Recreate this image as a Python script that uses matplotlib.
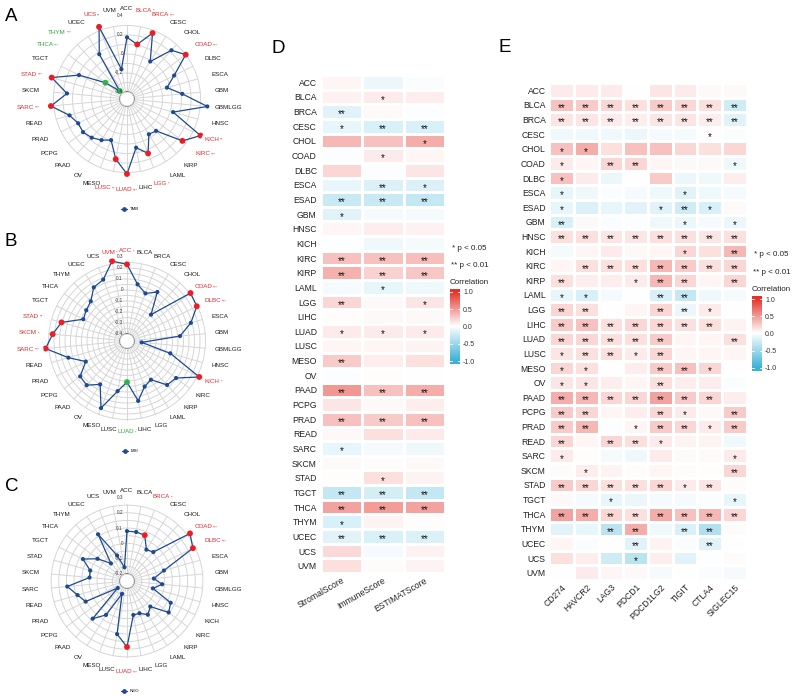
import numpy as np
import matplotlib
matplotlib.use('Agg')
import matplotlib.pyplot as plt
from matplotlib.colors import LinearSegmentedColormap
from matplotlib.lines import Line2D
from matplotlib.patches import Circle
from matplotlib import transforms

plt.rcParams['font.family'] = ['Liberation Sans', 'DejaVu Sans']

# ---- data ----
radar_cats = ['ACC', 'BLCA', 'BRCA', 'CESC', 'CHOL', 'COAD', 'DLBC', 'ESCA', 'GBM', 'GBMLGG',
              'HNSC', 'KICH', 'KIRC', 'KIRP', 'LAML', 'LGG', 'LIHC', 'LUAD', 'LUSC', 'MESO',
              'OV', 'PAAD', 'PCPG', 'PRAD', 'READ', 'SARC', 'SKCM', 'STAD', 'TGCT', 'THCA',
              'THYM', 'UCEC', 'UCS', 'UVM']

tmb = [0.175, 0.11, 0.27, -0.01, 0.22, 0.30, 0.08, -0.037, 0.11, 0.375,
       0.03, 0.39, 0.257, -0.02, -0.037, 0.14, 0.047, 0.315, 0.17, -0.01,
       0.035, 0.077, 0.105, 0.10, 0.155, 0.33, 0.16, 0.35, 0.09, -0.19,
       -0.36, 0.08, 0.34, -0.155]
tmb_stars = {'BLCA': '*', 'BRCA': '***', 'COAD': '***', 'KICH': '**', 'KIRC': '***',
             'LGG': '*', 'LUAD': '***', 'LUSC': '**', 'SARC': '***', 'STAD': '***',
             'THCA': '***', 'THYM': '***', 'UCS': '**'}

msi = [0.233, 0.06, 0.0, 0.06, -0.14, 0.26, 0.245, 0.14, 0.02, -0.33,
       -0.055, 0.27, 0.095, 0.077, -0.05, -0.02, 0.09, -0.09, 0.0, 0.19,
       0.0, 0.08, 0.07, -0.045, 0.09, 0.28, 0.215, 0.155, -0.02, 0.0,
       0.025, 0.11, 0.135, 0.275]
msi_stars = {'ACC': '*', 'COAD': '***', 'DLBC': '***', 'KICH': '*', 'LUAD': '*',
             'SARC': '***', 'SKCM': '*', 'STAD': '**', 'UVM': '*'}

neo = [0.08, 0.08, 0.075, -0.005, 0.01, 0.27, 0.235, 0.005, -0.07, -0.015,
       -0.07, 0.073, 0.095, -0.02, 0.013, -0.02, -0.02, 0.185, 0.107, -0.156,
       0.015, 0.087, -0.17, 0.056, 0.09, 0.146, 0.0, 0.004, 0.076, -0.005,
       -0.09, 0.113, -0.067, -0.155]
neo_stars = {'BRCA': '*', 'COAD': '***', 'DLBC': '***', 'LUAD': '***'}

heat_rows = ['ACC', 'BLCA', 'BRCA', 'CESC', 'CHOL', 'COAD', 'DLBC', 'ESCA', 'ESAD', 'GBM',
             'HNSC', 'KICH', 'KIRC', 'KIRP', 'LAML', 'LGG', 'LIHC', 'LUAD', 'LUSC', 'MESO',
             'OV', 'PAAD', 'PCPG', 'PRAD', 'READ', 'SARC', 'SKCM', 'STAD', 'TGCT', 'THCA',
             'THYM', 'UCEC', 'UCS', 'UVM']

d_cols = ['StromalScore', 'ImmuneScore', 'ESTIMATScore']
d_values = [[0.05, -0.1, -0.03], [0.07, 0.1, 0.08], [-0.15, 0.03, -0.02], [-0.12, -0.2, -0.2],
            [0.35, 0.3, 0.4], [-0.02, 0.1, 0.05], [0.2, -0.02, 0.12], [-0.12, -0.18, -0.18],
            [-0.28, -0.28, -0.3], [-0.15, -0.05, -0.05], [0.05, 0.08, 0.07], [-0.01, -0.08, -0.05],
            [0.3, 0.3, 0.32], [0.38, 0.22, 0.28], [-0.06, -0.12, -0.08], [0.2, 0.03, 0.12],
            [0.01, 0.03, 0.03], [0.1, 0.1, 0.1], [0.05, 0.05, 0.06], [0.25, 0.08, 0.15],
            [-0.02, 0.01, 0.0], [0.5, 0.3, 0.4], [0.12, 0.03, 0.08], [0.3, 0.25, 0.3],
            [0.03, 0.15, 0.1], [-0.12, -0.05, -0.08], [0.03, 0.02, 0.03], [0.01, 0.15, 0.06],
            [-0.3, -0.22, -0.3], [0.45, 0.48, 0.45], [-0.2, 0.06, 0.01], [-0.15, -0.2, -0.18],
            [0.18, -0.06, 0.07], [0.15, 0.02, 0.06]]
d_sig = [[0, 0, 0], [0, 1, 0], [2, 0, 0], [1, 2, 2], [0, 0, 1], [0, 1, 0], [0, 0, 0], [0, 2, 1],
         [2, 2, 2], [1, 0, 0], [0, 0, 0], [0, 0, 0], [2, 2, 2], [2, 2, 2], [0, 1, 0], [2, 0, 1],
         [0, 0, 0], [1, 1, 1], [0, 0, 0], [2, 0, 0], [0, 0, 0], [2, 2, 2], [0, 0, 0], [2, 2, 2],
         [0, 0, 0], [1, 0, 0], [0, 0, 0], [0, 1, 0], [2, 2, 2], [2, 2, 2], [1, 0, 0], [2, 2, 2],
         [0, 0, 0], [0, 0, 0]]

e_cols = ['CD274', 'HAVCR2', 'LAG3', 'PDCD1', 'PDCD1LG2', 'TIGIT', 'CTLA4', 'SIGLEC15']
e_values = [[0.1, 0.1, 0.1, 0.0, 0.12, 0.1, 0.03, 0.03],
            [0.3, 0.25, 0.2, 0.15, 0.25, 0.2, 0.15, -0.25],
            [0.12, 0.12, 0.1, 0.08, 0.12, 0.12, 0.08, -0.15],
            [-0.08, -0.08, -0.08, -0.1, -0.06, -0.05, 0.0, -0.03],
            [0.3, 0.4, 0.15, 0.3, 0.3, 0.2, 0.15, 0.2],
            [0.1, 0.05, 0.2, 0.2, 0.05, 0.03, 0.03, -0.08],
            [0.3, 0.1, -0.1, 0.0, 0.25, -0.1, -0.08, 0.08],
            [-0.12, -0.08, -0.03, -0.06, -0.08, -0.15, -0.08, -0.06],
            [-0.12, -0.18, -0.12, -0.15, -0.15, -0.25, -0.2, 0.03],
            [-0.2, 0.03, -0.03, -0.02, -0.08, -0.1, -0.06, -0.1],
            [0.15, 0.15, 0.12, 0.12, 0.15, 0.15, 0.12, 0.15],
            [-0.05, 0.05, 0.1, 0.03, 0.05, 0.2, 0.15, 0.35],
            [0.05, 0.15, 0.15, 0.15, 0.35, 0.25, 0.15, 0.2],
            [0.15, 0.08, 0.08, 0.1, 0.35, 0.2, 0.05, 0.2],
            [-0.12, -0.2, -0.06, 0.0, -0.2, -0.3, -0.08, -0.05],
            [0.2, 0.15, 0.0, 0.05, 0.2, -0.1, 0.1, 0.0],
            [0.25, 0.3, 0.15, 0.2, 0.2, 0.15, 0.15, 0.06],
            [0.2, 0.2, 0.15, 0.15, 0.25, 0.05, 0.05, 0.15],
            [0.12, 0.15, 0.15, 0.1, 0.2, 0.05, 0.05, 0.05],
            [0.2, 0.15, 0.0, 0.08, 0.25, 0.3, 0.2, 0.0],
            [0.12, 0.12, 0.08, 0.05, 0.15, 0.08, 0.08, -0.03],
            [0.4, 0.35, 0.2, 0.2, 0.45, 0.25, 0.2, 0.08],
            [0.25, 0.2, 0.05, 0.08, 0.2, 0.1, 0.03, 0.25],
            [0.25, 0.35, -0.02, 0.05, 0.25, 0.2, 0.1, 0.25],
            [0.2, 0.05, 0.2, 0.15, 0.1, 0.06, 0.06, -0.08],
            [0.1, 0.01, -0.05, -0.08, 0.1, 0.03, 0.03, 0.1],
            [0.02, 0.08, 0.06, 0.02, 0.05, 0.02, 0.01, 0.2],
            [0.25, 0.2, 0.15, 0.15, 0.2, 0.1, 0.12, 0.02],
            [0.03, -0.06, -0.12, -0.1, -0.06, -0.06, -0.03, -0.12],
            [0.45, 0.4, 0.2, 0.15, 0.4, 0.3, 0.35, 0.2],
            [-0.15, -0.12, -0.35, 0.4, -0.08, -0.2, -0.4, 0.02],
            [0.05, -0.03, 0.0, -0.15, 0.06, -0.03, -0.15, 0.0],
            [0.15, 0.08, -0.25, -0.35, 0.08, -0.15, -0.01, 0.02],
            [0.0, 0.1, 0.05, 0.03, -0.05, 0.0, -0.03, -0.05]]
e_sig = [[0, 0, 0, 0, 0, 0, 0, 0], [2, 2, 2, 2, 2, 2, 2, 2], [2, 2, 2, 2, 2, 2, 2, 2],
         [0, 0, 0, 0, 0, 0, 1, 0], [1, 1, 0, 0, 0, 0, 0, 0], [1, 0, 2, 2, 0, 0, 0, 1],
         [1, 0, 0, 0, 0, 0, 0, 0], [1, 0, 0, 0, 0, 1, 0, 0], [1, 0, 0, 0, 1, 2, 1, 0],
         [2, 0, 0, 0, 0, 1, 0, 1], [2, 2, 2, 2, 2, 2, 2, 2], [0, 0, 0, 0, 0, 1, 0, 2],
         [0, 2, 2, 2, 2, 2, 2, 2], [2, 0, 0, 1, 2, 2, 0, 2], [1, 1, 0, 0, 2, 2, 0, 0],
         [2, 2, 0, 0, 2, 2, 1, 0], [2, 2, 2, 2, 2, 2, 2, 0], [2, 2, 2, 2, 2, 0, 0, 2],
         [1, 2, 2, 1, 2, 0, 0, 0], [1, 1, 0, 0, 2, 2, 1, 0], [1, 1, 0, 0, 2, 0, 0, 0],
         [2, 2, 2, 2, 2, 2, 2, 0], [2, 2, 0, 0, 2, 1, 0, 2], [2, 2, 0, 1, 2, 2, 1, 2],
         [2, 0, 2, 2, 1, 0, 0, 0], [1, 0, 0, 0, 0, 0, 0, 1], [0, 1, 0, 0, 0, 0, 0, 2],
         [2, 2, 2, 2, 2, 1, 2, 0], [0, 0, 1, 0, 0, 0, 0, 1], [2, 2, 2, 2, 2, 2, 2, 2],
         [0, 0, 2, 2, 0, 2, 2, 0], [0, 0, 0, 2, 0, 0, 2, 0], [0, 0, 0, 1, 0, 0, 0, 0],
         [0, 0, 0, 0, 0, 0, 0, 0]]

# ---- figure ----
W, H = 793, 696
fig = plt.figure(figsize=(W / 100, H / 100), dpi=100)
renderer = fig.canvas.get_renderer()


def fx(p):
    return p / W


def fy(p):
    return 1 - p / H


line_c = '#1D4A91'
red_pt, green_pt = '#EE1C25', '#2DB34A'
red_txt, green_txt = '#E0282E', '#33A63C'
grid_c = '#D6D6D6'
GAP = 0.7


def place(lab):
    lab['t1'].set_position((fx(lab['left']), fy(lab['yc'])))
    if lab['t2'] is not None:
        lab['t2'].set_position((fx(lab['left'] + lab['w1'] + GAP), fy(lab['yc'] + 0.8)))


def radar(cx, cy, vals, stars, name, r0, rmin, rmax, step, ticks):
    R = 84
    ax = fig.add_axes([fx(cx - R), fy(cy + R), 2 * R / W, 2 * R / H], projection='polar')
    ax.set_theta_zero_location('N')
    ax.set_theta_direction(-1)
    ax.set_rorigin(r0)
    ax.set_ylim(rmin, rmax)
    ax.grid(False)
    ax.set_xticks([])
    ax.set_yticks([])
    for key in ['polar', 'inner', 'start', 'end']:
        ax.spines[key].set_visible(False)
    n = len(radar_cats)
    th = np.arange(n) * 2 * np.pi / n
    full = np.linspace(0, 2 * np.pi, 361)
    levels = np.arange(rmin, rmax - step * 0.3 + 1e-9, step)
    for lv in levels:
        ax.plot(full, np.full_like(full, lv), color=grid_c, lw=0.7, zorder=1)
    for t in th:
        ax.plot([t, t], [rmin, levels[-1]], color=grid_c, lw=0.7, zorder=1)
    ax.plot(np.append(th, th[0]), vals + [vals[0]], color=line_c, lw=0.9, zorder=2)
    cols, sizes = [], []
    for c, v in zip(radar_cats, vals):
        if c in stars:
            cols.append(red_pt if v > 0 else green_pt)
            sizes.append(18)
        else:
            cols.append(line_c)
            sizes.append(9)
    ax.scatter(th, vals, c=cols, s=sizes, zorder=3, linewidths=0)
    # white hole in the middle
    scale = R / (rmax - r0)
    hole = (rmin - r0) * scale
    fig.add_artist(Circle((cx, H - cy), hole, transform=transforms.IdentityTransform(),
                          facecolor='white', edgecolor=grid_c, lw=0.7, zorder=5))
    for tk in ticks:
        fig.text(fx(cx - 4), fy(cy - (tk - r0) * scale), ('%g' % tk) if tk != 0 else '0',
                 ha='right', va='center', fontsize=3.4, color='#333333', zorder=6)
    D0 = 88
    labs = []
    for i, c in enumerate(radar_cats):
        s_, c_ = np.sin(th[i]), np.cos(th[i])
        x, y = cx + D0 * s_, cy - D0 * c_
        col = '#1a1a1a'
        if c in stars:
            col = red_txt if vals[i] > 0 else green_txt
        t1 = fig.text(0, 0, c, fontsize=4.5, color=col, ha='left', va='center')
        b1 = t1.get_window_extent(renderer)
        w, h = b1.width, b1.height
        t2 = None
        if c in stars:
            t2 = fig.text(0, 0, stars[c], fontsize=3.0, color=col, ha='left', va='center')
            w = w + GAP + t2.get_window_extent(renderer).width
        xc, yc = x + s_ * w / 2, y - c_ * h / 2
        lab = dict(t1=t1, t2=t2, w1=b1.width, w=w, h=h * 0.8, left=xc - w / 2, yc=yc, s=s_)
        place(lab)
        labs.append(lab)
    # nudge neighbouring labels apart where they collide
    for k in range(n):
        a, b = labs[k], labs[(k + 1) % n]
        ox = min(a['left'] + a['w'], b['left'] + b['w']) - max(a['left'], b['left'])
        oy = min(a['yc'] + a['h'] / 2, b['yc'] + b['h'] / 2) - max(a['yc'] - a['h'] / 2,
                                                                   b['yc'] - b['h'] / 2)
        if ox > 0 and oy > 0:
            mv, other = (a, b) if abs(a['s']) > abs(b['s']) else (b, a)
            d = -1 if mv['left'] < other['left'] else 1
            mv['left'] += d * (ox + 0.6)
            place(mv)
    h = Line2D([], [], color=line_c, marker='o', markersize=2.4, lw=0.8)
    fig.legend([h], [name], loc='center', bbox_to_anchor=(fx(cx + 3), fy(cy + 110)),
               frameon=False, fontsize=3.2, handlelength=1.3, handletextpad=0.6)


radar(127, 99, tmb, tmb_stars, 'TMB', -0.474, -0.4, 0.41, 0.1, [0.4, 0.2, 0, -0.2, -0.4])
radar(127, 341, msi, msi_stars, 'MSI', -0.464, -0.4, 0.30, 0.05,
      [0.3, 0.2, 0.1, 0, -0.1, -0.2, -0.3, -0.4])
radar(127, 581, neo, neo_stars, 'NEO', -0.246, -0.2, 0.303, 0.05,
      [0.3, 0.2, 0.1, 0, -0.1, -0.2])

cmap = LinearSegmentedColormap.from_list('corr', ['#3DB2D6', '#FFFFFF', '#E5332A'])


def heat(x0, y0, x1, y1, vals, sig, cols, rot, pad):
    ax = fig.add_axes([fx(x0), fy(y1), (x1 - x0) / W, (y1 - y0) / H])
    v = np.array(vals)
    nr, nc = v.shape
    ax.pcolormesh(np.arange(nc + 1), np.arange(nr + 1), v, cmap=cmap, vmin=-1, vmax=1,
                  edgecolors='white', linewidth=0.9)
    ax.set_xlim(0, nc)
    ax.set_ylim(nr, 0)
    ax.set_yticks(np.arange(nr) + 0.5)
    ax.set_yticklabels(heat_rows, fontsize=6.2, color='#222222')
    ax.set_xticks(np.arange(nc) + 0.5)
    ax.set_xticklabels(cols, fontsize=6.2, color='#222222', rotation=rot, ha='right',
                       va='top', rotation_mode='anchor')
    ax.tick_params(length=0, pad=pad)
    ax.tick_params(axis='x', pad=2)
    for s in ax.spines.values():
        s.set_visible(False)
    for i in range(nr):
        for j in range(nc):
            if sig[i][j]:
                ax.text(j + 0.5, i + 0.7, '*' * sig[i][j], ha='center', va='center',
                        fontsize=7, color='#111111')


def cbar(x0, yc, xt):
    pxu = 34.5
    ax = fig.add_axes([fx(x0), fy(yc + 1.1 * pxu), 9.5 / W, 2.2 * pxu / H])
    grad = np.linspace(1.1, -1.1, 256)[:, None]
    ax.imshow(grad, extent=[0, 1, -1.1, 1.1], aspect='auto', cmap=cmap, vmin=-1, vmax=1)
    ticks = [-1, -0.5, 0, 0.5, 1]
    for tk in ticks:
        ax.plot([0, 0.2], [tk, tk], color='white', lw=0.6)
        ax.plot([0.8, 1], [tk, tk], color='white', lw=0.6)
    ax.set_xlim(0, 1)
    ax.set_ylim(-1.1, 1.1)
    ax.set_xticks([])
    ax.yaxis.tick_right()
    ax.set_yticks(ticks)
    ax.set_yticklabels(['-1.0', '-0.5', '0.0', '0.5', '1.0'], fontsize=5, color='#333333')
    ax.tick_params(length=0, pad=2.5)
    for s in ax.spines.values():
        s.set_visible(False)
    fig.text(fx(xt), fy(yc - 44), 'Correlation', fontsize=5.8, color='#222222',
             ha='left', va='center')
    fig.text(fx(xt + 2), fy(yc - 78.5), '* p < 0.05', fontsize=5.8, color='#222222',
             ha='left', va='center')
    fig.text(fx(xt + 1), fy(yc - 61), '** p < 0.01', fontsize=5.8, color='#222222',
             ha='left', va='center')


heat(321, 75, 445, 573, d_values, d_sig, d_cols, 30, 3)
heat(549, 83, 747, 580, e_values, e_sig, e_cols, 45, 2.4)
cbar(450, 326.5, 450)
cbar(752, 333.5, 752)

for lab, x, y in [('A', 11.5, 16.5), ('B', 11, 241.5), ('C', 11.5, 486.5),
                  ('D', 278.5, 48.5), ('E', 505, 48)]:
    fig.text(fx(x), fy(y), lab, fontsize=13.5, ha='center', va='center', color='black')

fig.savefig('out.png', dpi=100)
